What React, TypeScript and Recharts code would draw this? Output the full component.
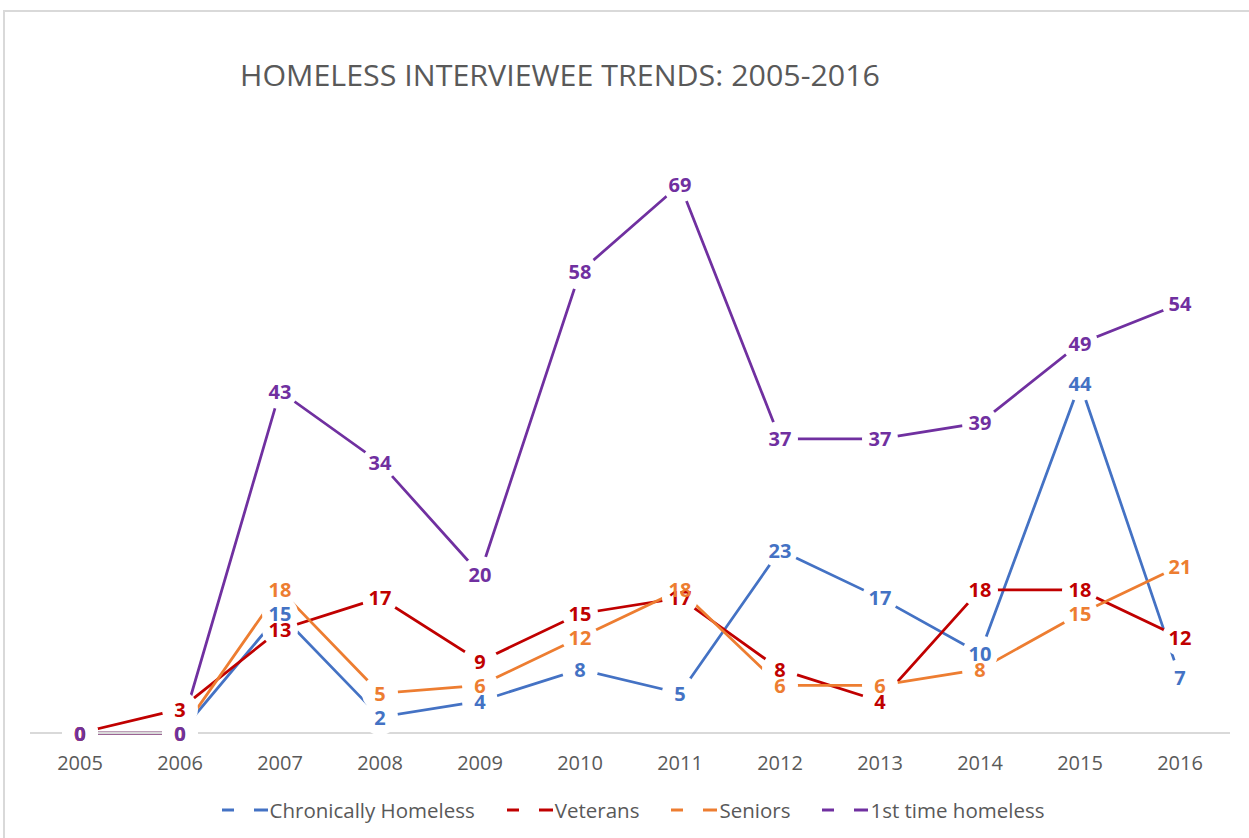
import React from "react";
import { LineChart, Line, XAxis, YAxis, LabelList } from "recharts";

const years = ["2005", "2006", "2007", "2008", "2009", "2010", "2011", "2012", "2013", "2014", "2015", "2016"];
const chronicallyHomeless = [0, 0, 15, 2, 4, 8, 5, 23, 17, 10, 44, 7];
const veterans = [0, 3, 13, 17, 9, 15, 17, 8, 4, 18, 18, 12];
const seniors = [0, 0, 18, 5, 6, 12, 18, 6, 6, 8, 15, 21];
const firstTime = [0, 0, 43, 34, 20, 58, 69, 37, 37, 39, 49, 54];

const seriesNames = ["Chronically Homeless", "Veterans", "Seniors", "1st time homeless"];
const seriesKeys = ["chronic", "veterans", "seniors", "first"];
const seriesColors = ["#4472C4", "#C00000", "#ED7D31", "#7030A0"];

const data = years.map((y, i) => ({
  year: y,
  chronic: chronicallyHomeless[i],
  veterans: veterans[i],
  seniors: seniors[i],
  first: firstTime[i],
}));

const FONT = "'Open Sans', 'DejaVu Sans', sans-serif";

const Tick = (props: any) => (
  <text
    x={props.x}
    y={props.y + 29}
    textAnchor="middle"
    dominantBaseline="central"
    fill="#595959"
    fontSize={20}
    fontFamily={FONT}
  >
    {props.payload.value}
  </text>
);

const WhiteDot = (props: any) => {
  if (props.cx == null || props.cy == null) return null;
  return <circle key={props.index} cx={props.cx} cy={props.cy} r={18} fill="#ffffff" stroke="none" />;
};

const makeLabel = (color: string) => (props: any) => (
  <text
    x={props.x}
    y={props.y}
    textAnchor="middle"
    dominantBaseline="central"
    fill={color}
    fontSize={20}
    fontWeight={700}
    fontFamily={FONT}
  >
    {props.value}
  </text>
);

export default function App() {
  return (
    <div style={{ position: "absolute", left: 0, top: 0, width: 1249, height: 838, background: "#fff", overflow: "hidden" }}>
      <div
        style={{
          position: "absolute",
          left: 3,
          top: 10,
          width: 1270,
          height: 860,
          border: "2px solid #d9d9d9",
          boxSizing: "border-box",
        }}
      />
      <svg style={{ position: "absolute", left: 0, top: 0 }} width={1249} height={120}>
        <text x={240} y={86} fontSize={29} fill="#595959" fontFamily={FONT} textLength={640} lengthAdjust="spacingAndGlyphs">
          HOMELESS INTERVIEWEE TRENDS: 2005-2016
        </text>
      </svg>
      <div style={{ position: "absolute", left: 0, top: 0 }}>
        <LineChart width={1249} height={838} data={data} margin={{ top: 97, right: 19, bottom: 75, left: 30 }}>
          <XAxis
            dataKey="year"
            padding={{ left: 50, right: 50 }}
            axisLine={{ stroke: "#d9d9d9", strokeWidth: 2 }}
            tickLine={false}
            tickSize={0}
            tickMargin={0}
            tick={<Tick />}
            interval={0}
            height={30}
          />
          <YAxis hide domain={[0, 80]} />
          {seriesKeys.map((k, i) => (
            <Line
              key={"line-" + k}
              dataKey={k}
              stroke={seriesColors[i]}
              strokeWidth={2.75}
              dot={false}
              activeDot={false}
              isAnimationActive={false}
              type="linear"
            />
          ))}
          {seriesKeys.map((k) => (
            <Line
              key={"dot-" + k}
              dataKey={k}
              stroke="none"
              dot={<WhiteDot />}
              activeDot={false}
              isAnimationActive={false}
              type="linear"
            />
          ))}
          {seriesKeys.map((k, i) => (
            <Line
              key={"lab-" + k}
              dataKey={k}
              stroke="none"
              dot={false}
              activeDot={false}
              isAnimationActive={false}
              type="linear"
            >
              <LabelList dataKey={k} content={makeLabel(seriesColors[i])} />
            </Line>
          ))}
        </LineChart>
      </div>
      <div
        style={{
          position: "absolute",
          left: 0,
          top: 797,
          width: 1264,
          display: "flex",
          justifyContent: "center",
          gap: 30,
          fontFamily: FONT,
          fontSize: 20.5,
          color: "#595959",
          lineHeight: "26px",
        }}
      >
        {seriesNames.map((n, i) => (
          <div key={n} style={{ display: "flex", alignItems: "center" }}>
            <svg width={50} height={26}>
              <line x1={2} x2={14} y1={13} y2={13} stroke={seriesColors[i]} strokeWidth={3} />
              <line x1={34} x2={48} y1={13} y2={13} stroke={seriesColors[i]} strokeWidth={3} />
            </svg>
            <span>{n}</span>
          </div>
        ))}
      </div>
    </div>
  );
}
